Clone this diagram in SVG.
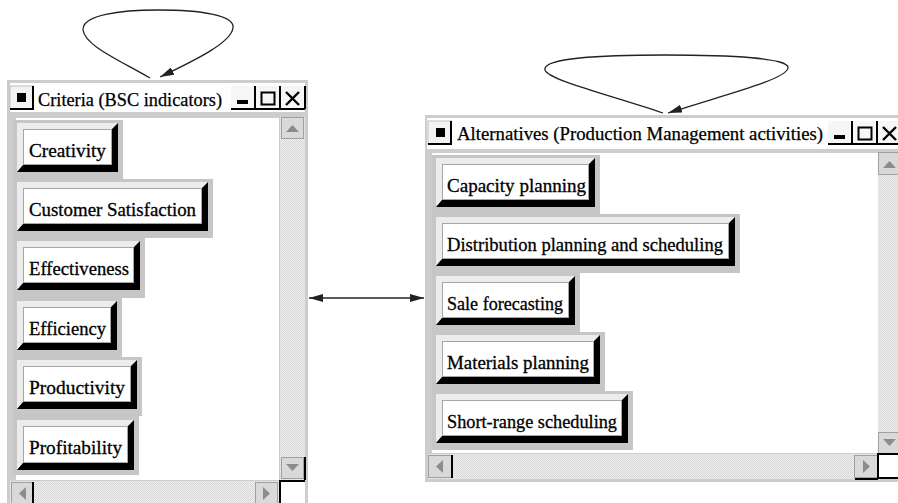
<svg xmlns="http://www.w3.org/2000/svg" width="898" height="503" viewBox="0 0 898 503">
  <style>
    .frame { fill: #cdcdcd; }
    .white { fill: #ffffff; }
    .track { fill: url(#hatch); }
    .item-bg { fill: #c6c6c6; }
    .hilite { fill: #ececec; }
    .shadow { fill: #000000; }
    .face { fill: #ffffff; stroke: #a6a6a6; stroke-width: 1; }
    .label { font-family: "Liberation Serif", "Times New Roman", serif; font-size: 19px; fill: #000; stroke: #000; stroke-width: 0.3; }
    .title { font-family: "Liberation Serif", "Times New Roman", serif; font-size: 18px; fill: #000; stroke: #000; stroke-width: 0.25; }
    .sbtn { fill: #d9d9d9; stroke: #a0a0a0; stroke-width: 1; }
    .sarrow { fill: #8c8c8c; }
    .tbtn { fill: #f6f6f6; }
    .edge { stroke: #000; stroke-width: 2; fill: none; }
    .conn { stroke: #222; stroke-width: 1.3; fill: none; }
  </style>
  <defs>
    <pattern id="hatch" width="2" height="2" patternUnits="userSpaceOnUse">
      <rect width="2" height="2" fill="#eeeeee"/>
      <rect width="1" height="1" fill="#d9d9d9"/>
      <rect x="1" y="1" width="1" height="1" fill="#d9d9d9"/>
    </pattern>
    <marker id="head" markerUnits="userSpaceOnUse" markerWidth="14" markerHeight="8" refX="14" refY="4" orient="auto-start-reverse">
      <path d="M0,0 L14,4 L0,8 Z" fill="#222"/>
    </marker>
  </defs>

  <!-- Window: Criteria -->
  <g id="criteria-window">
    <rect class="frame" x="7" y="80" width="301" height="430"/>
    <rect class="white" x="10" y="83" width="295" height="29"/>
    <!-- system icon -->
    <rect x="10" y="86" width="23" height="23" fill="#f2f2f2" stroke="#bdbdbd"/>
    <path class="edge" d="M33,86 V109 H10"/>
    <rect x="17" y="93" width="9" height="9" fill="#000"/>
    <text class="title" x="38" y="106" textLength="184" lengthAdjust="spacingAndGlyphs">Criteria (BSC indicators)</text>
    <!-- title buttons -->
    <rect class="tbtn" x="231" y="86" width="24" height="23"/>
    <rect class="tbtn" x="256" y="86" width="24" height="23"/>
    <rect class="tbtn" x="281" y="86" width="24" height="23"/>
    <path class="edge" d="M231,109 H305 M255,86 V109 M280,86 V109 M305,86 V109"/>
    <rect x="237" y="100" width="11" height="4" fill="#000"/>
    <rect x="261.5" y="92.5" width="13" height="12" fill="none" stroke="#000" stroke-width="2"/>
    <path d="M286,92 L299,105 M299,92 L286,105" stroke="#000" stroke-width="2.4"/>
    <!-- client area -->
    <rect class="white" x="16" y="118" width="263" height="362"/>
    <!-- vertical scrollbar -->
    <rect class="track" x="280" y="117" width="25" height="363"/>
    <rect class="sbtn" x="281.5" y="117.5" width="22" height="21"/>
    <path class="sarrow" d="M286,132 L292.5,125 L299,132 Z"/>
    <rect class="sbtn" x="281.5" y="457.5" width="22" height="21"/>
    <path class="sarrow" d="M286,464 L292.5,471 L299,464 Z"/>
    <path class="edge" d="M305,457 V480"/>
    <!-- horizontal scrollbar -->
    <rect class="track" x="10" y="481" width="270" height="25"/>
    <rect class="sbtn" x="11.5" y="482.5" width="21" height="22"/>
    <path class="sarrow" d="M26,487 L19,493.5 L26,500 Z"/>
    <path class="edge" d="M33,482 V505"/>
    <rect class="sbtn" x="255.5" y="482.5" width="22" height="22"/>
    <path class="sarrow" d="M263,487 L270,493.5 L263,500 Z"/>
    <!-- size box -->
    <rect class="white" x="280" y="481" width="25" height="22"/>
    <path class="edge" d="M280,503 V481 H305"/>

    <g id="item-creativity">
      <rect class="item-bg" x="13" y="120" width="110" height="59"/>
      <polygon class="hilite" points="17,123 118,123 112,129 23,129 23,165 17,172"/>
      <polygon class="shadow" points="118,123 118,172 17,172 23,165 112,165 112,129"/>
      <rect class="face" x="23.5" y="129.5" width="88" height="35"/>
      <text class="label" x="29" y="157" textLength="77" lengthAdjust="spacingAndGlyphs">Creativity</text>
    </g>
    <g id="item-customer-satisfaction">
      <rect class="item-bg" x="13" y="179" width="200" height="59"/>
      <polygon class="hilite" points="17,182 208,182 202,188 23,188 23,224 17,231"/>
      <polygon class="shadow" points="208,182 208,231 17,231 23,224 202,224 202,188"/>
      <rect class="face" x="23.5" y="188.5" width="178" height="35"/>
      <text class="label" x="29" y="216" textLength="167" lengthAdjust="spacingAndGlyphs">Customer Satisfaction</text>
    </g>
    <g id="item-effectiveness">
      <rect class="item-bg" x="13" y="238" width="132" height="60"/>
      <polygon class="hilite" points="17,241 140,241 134,247 23,247 23,283 17,290"/>
      <polygon class="shadow" points="140,241 140,290 17,290 23,283 134,283 134,247"/>
      <rect class="face" x="23.5" y="247.5" width="110" height="35"/>
      <text class="label" x="29" y="275" textLength="100" lengthAdjust="spacingAndGlyphs">Effectiveness</text>
    </g>
    <g id="item-efficiency">
      <rect class="item-bg" x="13" y="298" width="109" height="59"/>
      <polygon class="hilite" points="17,301 117,301 111,307 23,307 23,343 17,350"/>
      <polygon class="shadow" points="117,301 117,350 17,350 23,343 111,343 111,307"/>
      <rect class="face" x="23.5" y="307.5" width="87" height="35"/>
      <text class="label" x="29" y="335" textLength="77" lengthAdjust="spacingAndGlyphs">Efficiency</text>
    </g>
    <g id="item-productivity">
      <rect class="item-bg" x="13" y="357" width="129" height="59"/>
      <polygon class="hilite" points="17,360 137,360 131,366 23,366 23,402 17,409"/>
      <polygon class="shadow" points="137,360 137,409 17,409 23,402 131,402 131,366"/>
      <rect class="face" x="23.5" y="366.5" width="107" height="35"/>
      <text class="label" x="29" y="394" textLength="96" lengthAdjust="spacingAndGlyphs">Productivity</text>
    </g>
    <g id="item-profitability">
      <rect class="item-bg" x="13" y="416" width="126" height="59"/>
      <polygon class="hilite" points="17,420 134,420 128,426 23,426 23,463 17,470"/>
      <polygon class="shadow" points="134,420 134,470 17,470 23,463 128,463 128,426"/>
      <rect class="face" x="23.5" y="426.5" width="104" height="36"/>
      <text class="label" x="29" y="454" textLength="93" lengthAdjust="spacingAndGlyphs">Profitability</text>
    </g>
  </g>

  <!-- Window: Alternatives -->
  <g id="alternatives-window">
    <rect class="frame" x="425" y="115" width="480" height="367"/>
    <rect class="white" x="427" y="118" width="475" height="31"/>
    <rect x="428" y="121" width="23" height="23" fill="#f2f2f2" stroke="#bdbdbd"/>
    <path class="edge" d="M451,121 V144 H428"/>
    <rect x="436" y="128" width="9" height="9" fill="#000"/>
    <text class="title" x="457" y="140" textLength="366" lengthAdjust="spacingAndGlyphs">Alternatives (Production Management activities)</text>
    <rect class="tbtn" x="828" y="121" width="24" height="23"/>
    <rect class="tbtn" x="853" y="121" width="24" height="23"/>
    <rect class="tbtn" x="878" y="121" width="24" height="23"/>
    <path class="edge" d="M828,144 H900 M852,121 V144 M877,121 V144"/>
    <rect x="834" y="135" width="11" height="4" fill="#000"/>
    <rect x="858.5" y="127.5" width="13" height="12" fill="none" stroke="#000" stroke-width="2"/>
    <path d="M883,127 L896,140 M896,127 L883,140" stroke="#000" stroke-width="2.4"/>
    <!-- client area -->
    <rect class="white" x="432" y="153" width="446" height="300"/>
    <!-- vertical scrollbar -->
    <rect class="track" x="878" y="152" width="25" height="302"/>
    <rect class="sbtn" x="878.5" y="152.5" width="22" height="22"/>
    <path class="sarrow" d="M883,168 L889.5,161 L896,168 Z"/>
    <rect class="sbtn" x="878.5" y="432.5" width="22" height="21"/>
    <path class="sarrow" d="M883,439 L889.5,446 L896,439 Z"/>
    <!-- horizontal scrollbar -->
    <rect class="track" x="428" y="454" width="450" height="25"/>
    <rect class="sbtn" x="428.5" y="455.5" width="23" height="22"/>
    <path class="sarrow" d="M443,460 L436,466.5 L443,473 Z"/>
    <path class="edge" d="M452,455 V478"/>
    <rect class="sbtn" x="854.5" y="455.5" width="23" height="22"/>
    <path class="sarrow" d="M863,460 L870,466.5 L863,473 Z"/>
    <path class="edge" d="M855,479 H878"/>
    <!-- size box -->
    <rect class="white" x="878" y="454" width="25" height="24"/>
    <path class="edge" d="M878,479 V454 H900 M878,478 H900"/>

    <g id="item-capacity-planning">
      <rect class="item-bg" x="432" y="155" width="168" height="59"/>
      <polygon class="hilite" points="436,158 595,158 589,164 442,164 442,200 436,207"/>
      <polygon class="shadow" points="595,158 595,207 436,207 442,200 589,200 589,164"/>
      <rect class="face" x="442.5" y="164.5" width="146" height="35"/>
      <text class="label" x="447" y="192" textLength="139" lengthAdjust="spacingAndGlyphs">Capacity planning</text>
    </g>
    <g id="item-distribution-planning">
      <rect class="item-bg" x="432" y="214" width="308" height="59"/>
      <polygon class="hilite" points="436,217 735,217 729,223 442,223 442,259 436,266"/>
      <polygon class="shadow" points="735,217 735,266 436,266 442,259 729,259 729,223"/>
      <rect class="face" x="442.5" y="223.5" width="286" height="35"/>
      <text class="label" x="447" y="251" textLength="276" lengthAdjust="spacingAndGlyphs">Distribution planning and scheduling</text>
    </g>
    <g id="item-sale-forecasting">
      <rect class="item-bg" x="432" y="273" width="148" height="59"/>
      <polygon class="hilite" points="436,276 575,276 569,282 442,282 442,318 436,325"/>
      <polygon class="shadow" points="575,276 575,325 436,325 442,318 569,318 569,282"/>
      <rect class="face" x="442.5" y="282.5" width="126" height="35"/>
      <text class="label" x="447" y="310" textLength="116" lengthAdjust="spacingAndGlyphs">Sale forecasting</text>
    </g>
    <g id="item-materials-planning">
      <rect class="item-bg" x="432" y="332" width="173" height="59"/>
      <polygon class="hilite" points="436,335 600,335 594,341 442,341 442,377 436,384"/>
      <polygon class="shadow" points="600,335 600,384 436,384 442,377 594,377 594,341"/>
      <rect class="face" x="442.5" y="341.5" width="151" height="35"/>
      <text class="label" x="447" y="369" textLength="142" lengthAdjust="spacingAndGlyphs">Materials planning</text>
    </g>
    <g id="item-short-range-scheduling">
      <rect class="item-bg" x="432" y="391" width="201" height="59"/>
      <polygon class="hilite" points="436,394 628,394 622,400 442,400 442,436 436,443"/>
      <polygon class="shadow" points="628,394 628,443 436,443 442,436 622,436 622,400"/>
      <rect class="face" x="442.5" y="400.5" width="179" height="35"/>
      <text class="label" x="447" y="428" textLength="170" lengthAdjust="spacingAndGlyphs">Short-range scheduling</text>
    </g>
  </g>

  <!-- Connectors -->
  <g id="connectors">
    <path class="conn" marker-end="url(#head)" d="M150,78 C115,58 85,45 83,30 C82,15 120,10 158,10 C200,10 235,15 233,28 C231,42 200,58 160,77"/>
    <path class="conn" marker-end="url(#head)" d="M663,113 C610,95 548,80 545,70 C542,58 600,55 665,55 C730,55 790,58 788,68 C786,80 720,96 668,113"/>
    <line class="conn" x1="309" y1="298" x2="424" y2="298" marker-start="url(#head)" marker-end="url(#head)"/>
  </g>
</svg>
